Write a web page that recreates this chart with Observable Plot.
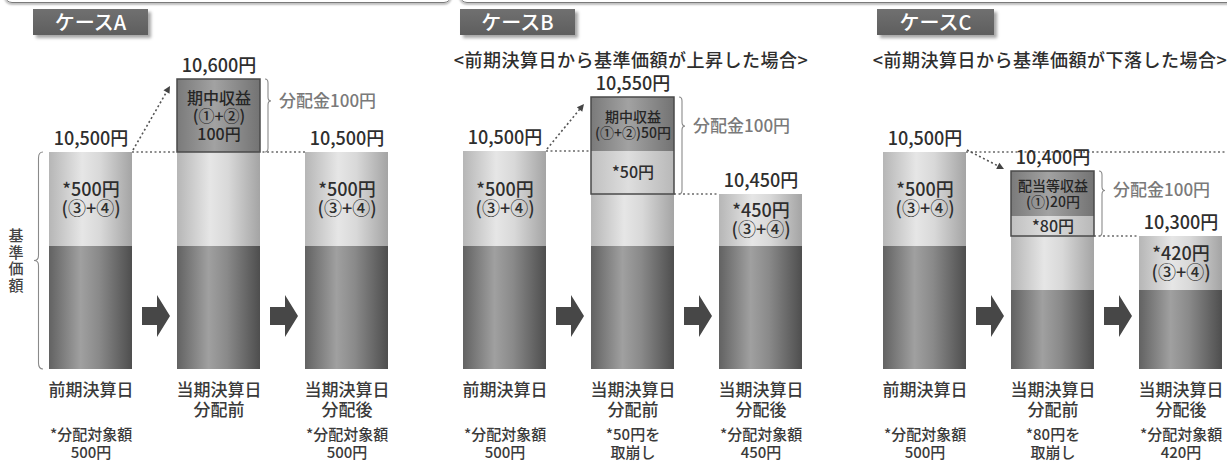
<!DOCTYPE html>
<html><head><meta charset="utf-8">
<script src="https://cdn.jsdelivr.net/npm/d3@7"></script>
<script src="https://cdn.jsdelivr.net/npm/@observablehq/plot@0.6"></script>
<style>
body{margin:0;background:#fff;overflow:hidden;font-family:'Noto Sans CJK JP','Noto Sans',sans-serif;}
#wrap{position:relative;width:1227px;height:462px;overflow:hidden;background:#fff;}
#wrap svg.panel{position:absolute;left:0;top:0;font-weight:500;}
.frame{position:absolute;top:-30px;height:31px;border:1.5px solid #7a7a7a;border-radius:8px;box-shadow:0 2px 2px rgba(0,0,0,0.25);}
.case{position:absolute;top:9px;height:26px;background:linear-gradient(#707070,#5e5e5e);color:#fff;font-size:20px;font-weight:500;line-height:26px;text-align:center;box-shadow:3px 3px 3px rgba(0,0,0,0.35);z-index:2;}
.sub{position:absolute;top:48px;font-size:18px;font-weight:500;color:#2e2e2e;letter-spacing:0.5px;white-space:nowrap;transform:translateX(-50%);line-height:22px;z-index:2;}
</style></head><body>
<svg width="0" height="0" style="position:absolute">
 <defs>
  <linearGradient id="gBase" x1="0" x2="1" y1="0" y2="0">
   <stop offset="0" stop-color="#626262"/><stop offset="0.38" stop-color="#a0a0a0"/><stop offset="0.6" stop-color="#8a8a8a"/><stop offset="1" stop-color="#4e4e4e"/>
  </linearGradient>
  <linearGradient id="gDist" x1="0" x2="1" y1="0" y2="0">
   <stop offset="0" stop-color="#b6b6b6"/><stop offset="0.4" stop-color="#e6e6e6"/><stop offset="0.62" stop-color="#d8d8d8"/><stop offset="1" stop-color="#a4a4a4"/>
  </linearGradient>
  <linearGradient id="gIncome" x1="0" x2="1" y1="0" y2="0">
   <stop offset="0" stop-color="#7a7a7a"/><stop offset="0.45" stop-color="#a2a2a2"/><stop offset="1" stop-color="#737373"/>
  </linearGradient>
  <linearGradient id="gDraw" x1="0" x2="1" y1="0" y2="0">
   <stop offset="0" stop-color="#c0c0c0"/><stop offset="0.45" stop-color="#dedede"/><stop offset="1" stop-color="#b8b8b8"/>
  </linearGradient>
 </defs>
</svg>
<div id="wrap"></div>
<script>
// ---- data ----
const cases = ["ケースA", "ケースB", "ケースC"];
const subtitles = ["", "<前期決算日から基準価額が上昇した場合>", "<前期決算日から基準価額が下落した場合>"];
const stages = ["前期決算日", "当期決算日\n分配前", "当期決算日\n分配後"];
const navPrev = [10500, 10500, 10500];   // 前期決算日の基準価額
const navPre = [10600, 10550, 10400];    // 当期決算日 分配前
const navPost = [10500, 10450, 10300];   // 当期決算日 分配後
const distribution = [100, 100, 100];    // 分配金
const income = [100, 50, 20];            // 期中収益 / 配当等収益
const drawdown = [0, 50, 80];            // 取崩し額
const distPrev = [500, 500, 500];        // 分配対象額（前期）
const distPost = [500, 450, 420];        // 分配対象額（分配後）
const incomeLabels = ["期中収益\n(①+②)\n100円", "期中収益\n(①+②)50円", "配当等収益\n(①)20円"];
const axisLabel = "基準価額";

// ---- layout (style only) ----
const FONT = "'Noto Sans CJK JP','Noto Sans',sans-serif";
const layout = [
  {xRange: [36.2, 400.4], yRange: [369, 246, 152, 79], hGuideTo: "bar3", caseBox: [33, 115], subCenter: null, incomeSize: 16},
  {xRange: [450.2, 814.4], yRange: [369, 246, 194, 151, 97], hGuideTo: "bar2", caseBox: [460, 115], subCenter: 631, incomeSize: 14},
  {xRange: [870.2, 1234.4], yRange: [369, 290, 246, 236, 216, 171, 152], hGuideTo: "edge", caseBox: [877, 117], subCenter: 1050, incomeSize: 14}
];

const wrap = document.getElementById("wrap");
[[4, 446], [459, 800]].forEach(([l, w]) => {
  const d = document.createElement("div");
  d.className = "frame"; d.style.left = l + "px"; d.style.width = w + "px";
  wrap.appendChild(d);
});

function segments(c) {
  const s = [];
  const b0 = navPrev[c] - distPrev[c];
  const b1 = navPost[c] - distPost[c];
  s.push({stage: stages[0], kind: "base", y1: 0, y2: b0});
  s.push({stage: stages[0], kind: "dist", y1: b0, y2: navPrev[c], label: `*${distPrev[c]}円\n(③+④)`});
  s.push({stage: stages[1], kind: "base", y1: 0, y2: b1});
  s.push({stage: stages[1], kind: "dist", y1: b1, y2: navPost[c]});
  if (drawdown[c] > 0) s.push({stage: stages[1], kind: "draw", y1: navPost[c], y2: navPost[c] + drawdown[c], label: `*${drawdown[c]}円`});
  s.push({stage: stages[1], kind: "income", y1: navPre[c] - income[c], y2: navPre[c], label: incomeLabels[c]});
  s.push({stage: stages[2], kind: "base", y1: 0, y2: b1});
  s.push({stage: stages[2], kind: "dist", y1: b1, y2: navPost[c], label: `*${distPost[c]}円\n(③+④)`});
  return s;
}

function bandOf(scales) {
  const x = scales.x;
  const bw = typeof x.bandwidth === "function" ? x.bandwidth() : (scales.scales && scales.scales.x ? scales.scales.x.bandwidth : 0);
  return {x, bw};
}

function guides(c, L) {
  return (index, scales, values, dims) => {
    const {x, bw} = bandOf(scales); const y = scales.y;
    const g = d3.create("svg:g").attr("fill", "none").attr("stroke", "#6a6a6a").attr("stroke-width", 1.4).attr("stroke-dasharray", "2,2.5");
    const x0r = x(stages[0]) + bw, x1l = x(stages[1]), x1r = x1l + bw, x2l = x(stages[2]);
    const yp = y(navPrev[c]);
    const end = L.hGuideTo === "bar2" ? x1l : L.hGuideTo === "bar3" ? x2l : dims.width;
    g.append("line").attr("x1", x0r).attr("x2", end).attr("y1", yp).attr("y2", yp);
    if (navPost[c] !== navPrev[c]) {
      const yq = y(navPost[c]);
      g.append("line").attr("x1", x1r).attr("x2", x2l).attr("y1", yq).attr("y2", yq);
    }
    return g.node();
  };
}

function overlay(c, L) {
  return (index, scales, values, dims) => {
    const {x, bw} = bandOf(scales); const y = scales.y;
    const g = d3.create("svg:g");
    const x0r = x(stages[0]) + bw, x1l = x(stages[1]), x1r = x1l + bw;
    // diagonal dotted arrow
    const sx = x0r + 1, sy = y(navPrev[c]) - 2;
    const ex = x1l - 7, ey = y(navPre[c]) + (navPre[c] > navPrev[c] ? 7 : -2);
    const dx = ex - sx, dy = ey - sy, len = Math.hypot(dx, dy), ux = dx / len, uy = dy / len;
    g.append("line").attr("x1", sx).attr("y1", sy).attr("x2", ex - ux * 5).attr("y2", ey - uy * 5)
      .attr("stroke", "#555").attr("stroke-width", 1.6).attr("stroke-dasharray", "2,2.5");
    const bx = ex - ux * 7, by = ey - uy * 7, nx = -uy, ny = ux;
    g.append("polygon").attr("points", [[ex, ey], [bx + nx * 3.5, by + ny * 3.5], [bx - nx * 3.5, by - ny * 3.5]].join(" ")).attr("fill", "#444");
    // block arrows between stages
    for (let i = 0; i < 2; i++) {
      const xc = (x(stages[i]) + bw + x(stages[i + 1])) / 2 + 1.5, yc = y(0) - 53;
      const pts = [[-14, -9], [1, -9], [1, -21], [14, 0], [1, 21], [1, 9], [-14, 9]].map(([a, b]) => [xc + a, yc + b]);
      g.append("polygon").attr("points", pts.join(" ")).attr("fill", "#474747");
    }
    // brace for distribution
    const bx0 = x1r + 5, w = 6, y1 = y(navPre[c]), y2 = y(navPost[c]), ym = y1 + 0.3 * (y2 - y1);
    const h = w / 2;
    g.append("path").attr("d",
      `M${bx0},${y1} Q${bx0 + h},${y1} ${bx0 + h},${y1 + 4} L${bx0 + h},${ym - 4} Q${bx0 + h},${ym} ${bx0 + w},${ym} Q${bx0 + h},${ym} ${bx0 + h},${ym + 4} L${bx0 + h},${y2 - 4} Q${bx0 + h},${y2} ${bx0},${y2}`)
      .attr("fill", "none").attr("stroke", "#8a8a8a").attr("stroke-width", 1.1);
    g.append("text").attr("x", bx0 + 14).attr("y", ym).attr("dy", "0.35em").attr("font-size", 17)
      .attr("text-anchor", "start").attr("fill", "#7a7a7a").attr("font-family", FONT).text(`分配金${distribution[c]}円`);
    if (c === 0) {
      const rx = x(stages[0]) - 6, ty = y(navPrev[c]), by2 = y(0), my = (ty + by2) / 2, lw = 9;
      g.append("path").attr("d",
        `M${rx},${ty} Q${rx - lw / 2},${ty} ${rx - lw / 2},${ty + 6} L${rx - lw / 2},${my - 5} Q${rx - lw / 2},${my} ${rx - lw},${my} Q${rx - lw / 2},${my} ${rx - lw / 2},${my + 5} L${rx - lw / 2},${by2 - 6} Q${rx - lw / 2},${by2} ${rx},${by2}`)
        .attr("fill", "none").attr("stroke", "#8a8a8a").attr("stroke-width", 1.1);
      const chars = Array.from(axisLabel), step = 16.5;
      const t = g.append("text").attr("font-size", 15).attr("fill", "#444").attr("font-family", FONT).attr("text-anchor", "middle");
      chars.forEach((ch, i) => t.append("tspan").attr("x", 16).attr("y", my + (i - (chars.length - 1) / 2) * step).attr("dy", "0.35em").text(ch));
    }
    return g.node();
  };
}

cases.forEach((name, c) => {
  const L = layout[c];
  const box = document.createElement("div");
  box.className = "case"; box.style.left = L.caseBox[0] + "px"; box.style.width = L.caseBox[1] + "px"; box.textContent = name;
  wrap.appendChild(box);
  if (subtitles[c]) {
    const s = document.createElement("div");
    s.className = "sub"; s.style.left = L.subCenter + "px"; s.textContent = subtitles[c];
    wrap.appendChild(s);
  }

  const segs = segments(c);
  const domain = Array.from(new Set(segs.flatMap(d => [d.y1, d.y2]))).sort((a, b) => a - b);
  const yr = d3.scaleLinear(domain, L.yRange);
  segs.forEach(d => d.ym = yr.invert((yr(d.y1) + yr(d.y2)) / 2));
  const tops = [
    {stage: stages[0], v: navPrev[c]},
    {stage: stages[1], v: navPre[c]},
    {stage: stages[2], v: navPost[c]}
  ];
  const notes = [
    {stage: stages[0], t: `*分配対象額\n${distPrev[c]}円`},
    {stage: stages[1], t: drawdown[c] > 0 ? `*${drawdown[c]}円を\n取崩し` : ""},
    {stage: stages[2], t: `*分配対象額\n${distPost[c]}円`}
  ];
  const fmt = d3.format(",");
  const plot = Plot.plot({
    width: 1227, height: 462, margin: 0,
    style: {background: "transparent", overflow: "visible", fontFamily: FONT},
    x: {type: "band", domain: stages, range: L.xRange, paddingInner: 0.355, paddingOuter: 0.1, axis: null},
    y: {type: "linear", domain, range: L.yRange, axis: null},
    marks: [
      guides(c, L),
      Plot.barY(segs.filter(d => d.kind === "base"), {x: "stage", y1: "y1", y2: "y2", fill: "url(#gBase)"}),
      Plot.barY(segs.filter(d => d.kind === "dist"), {x: "stage", y1: "y1", y2: "y2", fill: "url(#gDist)"}),
      Plot.barY(segs.filter(d => d.kind === "draw"), {x: "stage", y1: "y1", y2: "y2", fill: "url(#gDraw)"}),
      Plot.barY(segs.filter(d => d.kind === "income"), {x: "stage", y1: "y1", y2: "y2", fill: "url(#gIncome)"}),
      Plot.barY([{stage: stages[1], y1: navPost[c], y2: navPre[c]}], {x: "stage", y1: "y1", y2: "y2", fill: "none", stroke: "#4a4a4a", strokeWidth: 1.5}),
      Plot.text(segs.filter(d => d.kind === "dist" && d.label), {x: "stage", y: "ym", text: "label", fontSize: 18, lineHeight: 1.07, fill: "#2e2e2e"}),
      Plot.text(segs.filter(d => d.kind === "income"), {x: "stage", y: "ym", text: "label", fontSize: L.incomeSize, lineHeight: 1.15, fill: "#262626"}),
      Plot.text(segs.filter(d => d.kind === "draw"), {x: "stage", y: "ym", text: "label", fontSize: 16, fill: "#2e2e2e"}),
      Plot.text(tops, {x: "stage", y: "v", text: d => `${fmt(d.v)}円`, lineAnchor: "bottom", dy: -8, fontSize: 18, fill: "#2e2e2e"}),
      Plot.text(stages, {x: d => d, y: () => 0, text: d => d, lineAnchor: "top", dy: 12, fontSize: 17, lineHeight: 1.18, fill: "#3a3a3a"}),
      Plot.text(notes, {x: "stage", y: () => 0, text: "t", lineAnchor: "top", dy: 58, fontSize: 15, lineHeight: 1.17, fill: "#3a3a3a"}),
      overlay(c, L)
    ]
  });
  plot.classList.add("panel");
  wrap.appendChild(plot);
});
</script>
</body></html>
